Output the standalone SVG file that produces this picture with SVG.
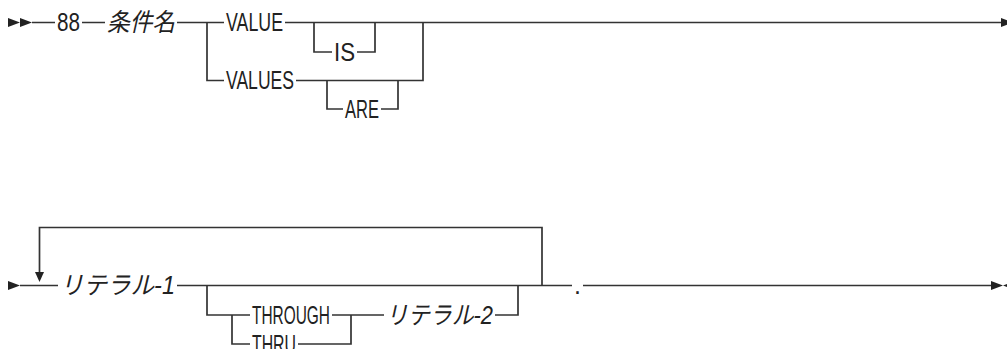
<svg xmlns="http://www.w3.org/2000/svg" width="1007" height="349" viewBox="0 0 1007 349">
<style>
.ln{fill:none;stroke:#333;stroke-width:1.7}
.t{font-family:"Liberation Sans","Noto Sans CJK JP",sans-serif;font-size:25px;fill:#222}
.it{font-style:italic}
.ah{fill:#222}
</style>
<rect width="1007" height="349" fill="#fff"/>
<g id="connectors">
<polygon class="ah" points="8,18 20,22.5 8,27"/>
<polygon class="ah" points="20,18 32,22.5 20,27"/>
<path class="ln" d="M32,22.5H55M82,22.5H105M177,22.5H224M285,22.5H1001"/>
<polygon class="ah" points="1001,18 1013,22.5 1001,27"/>
<path class="ln" d="M207,22.5V80.5H224M296,80.5H423V22.5"/>
<path class="ln" d="M314,22.5V52H332M357,52H375V22.5"/>
<path class="ln" d="M327,80.5V109H343M381,109H398V80.5"/>
<polygon class="ah" points="8,281 20,285.5 8,290"/>
<path class="ln" d="M20,285.5H58M177,285.5H572M583,285.5H991"/>
<path class="ln" d="M542,285.5V227.5H39.5V273"/>
<polygon class="ah" points="35,272 44,272 39.5,282"/>
<polygon class="ah" points="991,281 1003,285.5 991,290"/>
<polygon class="ah" points="1003,285.5 1015,281 1015,290"/>
<path class="ln" d="M207,285.5V315H250M232,315V344H250M298,344H351V315M332,315H384M495,315H518V285.5"/>
</g>
<g id="n88"><text class="t" x="57" y="31" textLength="23" lengthAdjust="spacingAndGlyphs">88</text></g>
<g id="condname"><text class="t it" x="107" y="31" textLength="68" lengthAdjust="spacingAndGlyphs">条件名</text></g>
<g id="value"><text class="t" x="226" y="31" textLength="57" lengthAdjust="spacingAndGlyphs">VALUE</text></g>
<g id="is"><text class="t" x="334" y="60.5" textLength="21" lengthAdjust="spacingAndGlyphs">IS</text></g>
<g id="values"><text class="t" x="226" y="89" textLength="68" lengthAdjust="spacingAndGlyphs">VALUES</text></g>
<g id="are"><text class="t" x="345" y="117.5" textLength="34" lengthAdjust="spacingAndGlyphs">ARE</text></g>
<g id="literal1"><text class="t it" x="60" y="294" textLength="115" lengthAdjust="spacingAndGlyphs">リテラル-1</text></g>
<g id="through"><text class="t" x="252" y="323.5" textLength="78" lengthAdjust="spacingAndGlyphs">THROUGH</text></g>
<g id="thru"><text class="t" x="252" y="352.5" textLength="44" lengthAdjust="spacingAndGlyphs">THRU</text></g>
<g id="literal2"><text class="t it" x="386" y="323.5" textLength="107" lengthAdjust="spacingAndGlyphs">リテラル-2</text></g>
<g id="period"><text class="t" x="574" y="294">.</text></g>
</svg>
